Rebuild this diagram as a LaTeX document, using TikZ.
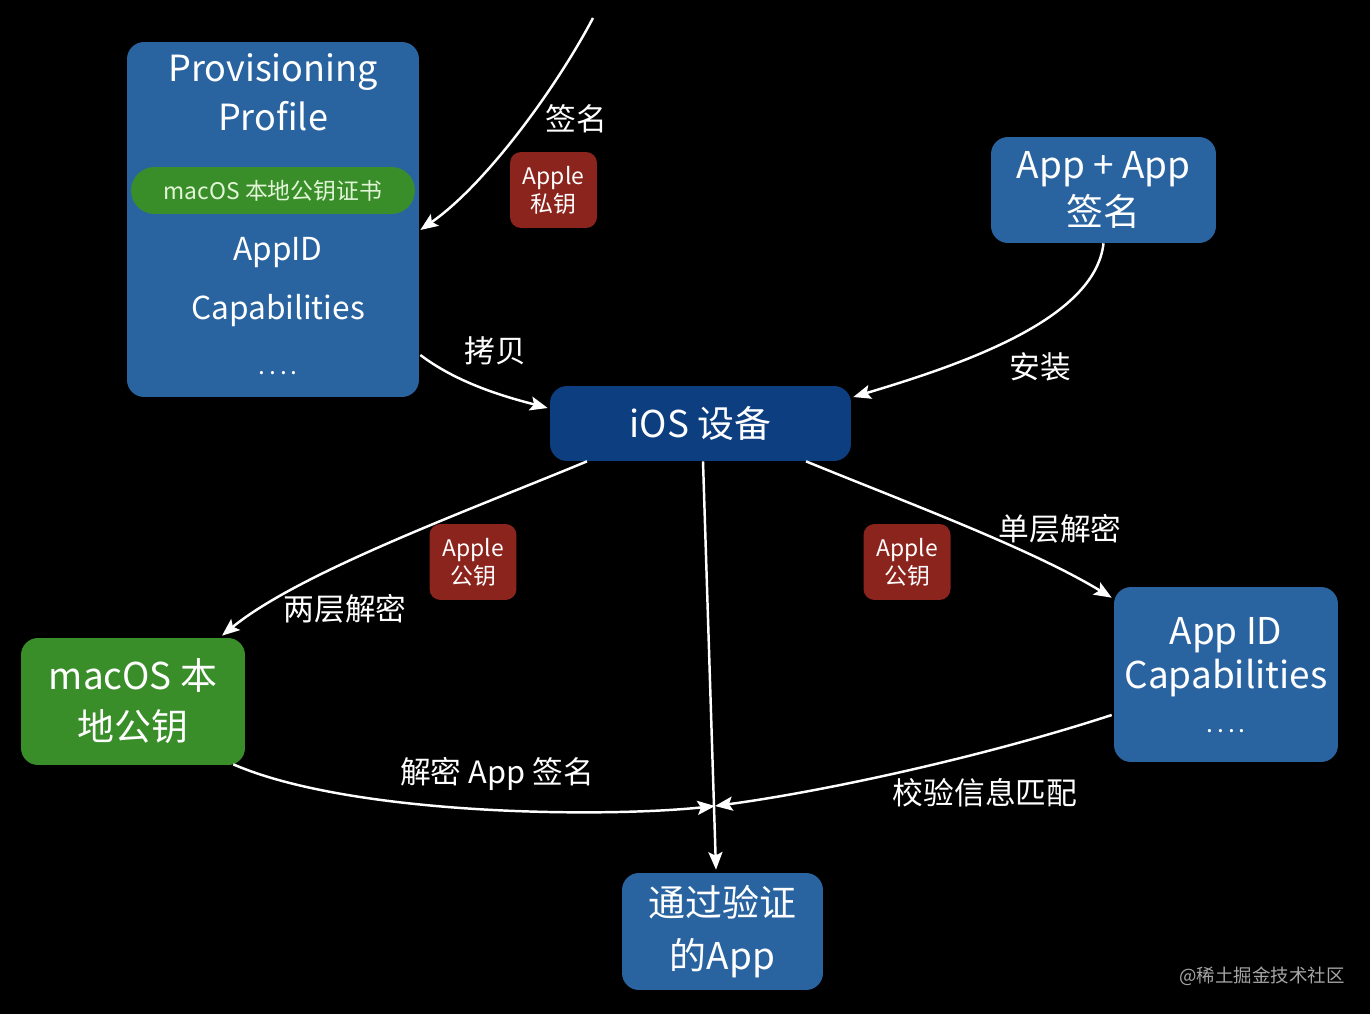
\documentclass[tikz,border=0pt]{standalone}
\usepackage{fontspec}
\setmainfont{Noto Sans CJK SC}
\usetikzlibrary{arrows.meta,calc}
\definecolor{boxblue}{RGB}{42,100,160}
\definecolor{darkblue}{RGB}{12,62,128}
\definecolor{boxgreen}{RGB}{58,142,42}
\definecolor{boxred}{RGB}{140,36,30}
\definecolor{wmgray}{RGB}{165,165,165}
\begin{document}
\begin{tikzpicture}[x=0.02cm,y=-0.02cm,
  box/.style={rounded corners=0.34cm, inner sep=0pt, text=white, align=center},
  redbox/.style={box, fill=boxred, minimum width=1.74cm, minimum height=1.52cm, rounded corners=0.22cm, font=\fontsize{13}{16}\selectfont},
  lbl/.style={text=white, inner sep=1pt, font=\fontsize{17.5}{20}\selectfont},
  wtext/.style={text=white, inner sep=0pt},
  conn/.style={draw=white, line width=1.4pt, -{Stealth[length=10pt,width=8pt,inset=2pt]}}
]
\fill[black] (0,0) rectangle (1370,1014);
\useasboundingbox (0,0) rectangle (1370,1014);

% Provisioning profile
\node[box, fill=boxblue, minimum width=5.84cm, minimum height=7.1cm] (prov) at (273,219.5) {};
\node[wtext, font=\fontsize{20.5}{24}\selectfont] (pt1) at (273,72) {Provisioning};
\node[wtext, font=\fontsize{20.5}{24}\selectfont] (pt2) at (273,116) {Profile};
\node[box, fill=boxgreen, minimum width=5.68cm, minimum height=0.94cm, rounded corners=0.47cm, text={rgb,255:red,225;green,245;blue,215}, font=\fontsize{13}{16}\selectfont] (pill) at (273,190.5) {macOS 本地公钥证书};
\node[wtext, font=\fontsize{18}{22}\selectfont] (pappid) at (278,253) {AppID};
\node[wtext, font=\fontsize{18}{22}\selectfont] (pcap) at (278,311) {Capabilities};
\node[wtext, font=\fontsize{14}{16}\selectfont] (pdots) at (278,373) {.\,.\,.\,.};

% signing key
\node[redbox] (priv) at (553.5,190) {Apple\\私钥};
\node[lbl] (lsign) at (576,119) {签名};
\coordinate (signstart) at (593,18);
\coordinate (provin) at ($(prov.east)+(1,10.5)$);
\draw[conn] (signstart) .. controls (555,90) and (485,185) .. (provin);

% App + App sign
\node[box, fill=boxblue, minimum width=4.5cm, minimum height=2.12cm, font=\fontsize{21}{27}\selectfont] (appsig) at (1103.5,190) {App + App\\签名};

% iOS device
\node[box, fill=darkblue, minimum width=6.02cm, minimum height=1.5cm, font=\fontsize{21}{26}\selectfont] (ios) at (700.5,423.5) {iOS 设备};

% copy
\coordinate (provout) at ($(prov.east)+(1,135.5)$);
\coordinate (iosin1) at ($(ios.west)+(-2,-15.5)$);
\draw[conn] (provout) .. controls (460,385) and (510,398) .. (iosin1);
\node[lbl] (lcopy) at (495,351) {拷贝};

% install
\coordinate (iosin2) at ($(ios.east)+(2,-26.5)$);
\draw[conn] (appsig.south) .. controls (1095,320) and (960,365) .. (iosin2);
\node[lbl] (linst) at (1040,367) {安装};

% macOS local public key
\node[box, fill=boxgreen, minimum width=4.48cm, minimum height=2.54cm, font=\fontsize{21}{29}\selectfont] (mac) at (133,701.5) {macOS 本\\地公钥};

% App ID box
\node[box, fill=boxblue, minimum width=4.48cm, minimum height=3.5cm] (appid) at (1226,674.5) {};
\node[wtext, font=\fontsize{21}{24}\selectfont] (at1) at (1226,635) {App ID};
\node[wtext, font=\fontsize{21}{24}\selectfont] (at2) at (1226,678) {Capabilities};
\node[wtext, font=\fontsize{14}{16}\selectfont] (at3) at (1226,731) {.\,.\,.\,.};

% verified app
\node[box, fill=boxblue, minimum width=4.02cm, minimum height=2.34cm, font=\fontsize{21}{30}\selectfont] (ver) at (722.5,931.5) {通过验证\\的App};

% public key boxes
\node[redbox] (pub1) at (473,562) {Apple\\公钥};
\node[redbox] (pub2) at (907,562) {Apple\\公钥};

% two-layer decrypt
\coordinate (iosout1) at ($(ios.south)+(-113.5,0)$);
\coordinate (macin) at ($(mac.north)+(89,-2)$);
\draw[conn] (iosout1) .. controls (470,510) and (300,572) .. (macin);
\node[lbl] (l2) at (345,609) {两层解密};

% single-layer decrypt
\coordinate (iosout2) at ($(ios.south)+(105.5,0)$);
\coordinate (appidin) at ($(appid.north west)+(-2,11)$);
\draw[conn] (iosout2) .. controls (900,500) and (1030,548) .. (appidin);
\node[lbl] (l1) at (1060,529) {单层解密};

% vertical
\coordinate (iosout3) at ($(ios.south)+(2.5,0)$);
\coordinate (verin) at ($(ver.north)+(-6.5,-3)$);
\draw[conn] (iosout3) -- (verin);

% merge
\coordinate (m) at (715,806);
\coordinate (macout) at ($(mac.south east)+(-12,-1)$);
\draw[conn] (macout) .. controls (350,815) and (600,818) .. (m);
\node[lbl] (ldec) at (497,774) {解密 App 签名};
\coordinate (appidout) at ($(appid.west)+(-2,40.5)$);
\draw[conn] (appidout) .. controls (980,758) and (820,792) .. (m);
\node[lbl] (lchk) at (985,793) {校验信息匹配};

% watermark
\node[text=wmgray, inner sep=0pt, font=\fontsize{10.5}{12}\selectfont] (wm) at (1262,976) {@稀土掘金技术社区};
\end{tikzpicture}
\end{document}
